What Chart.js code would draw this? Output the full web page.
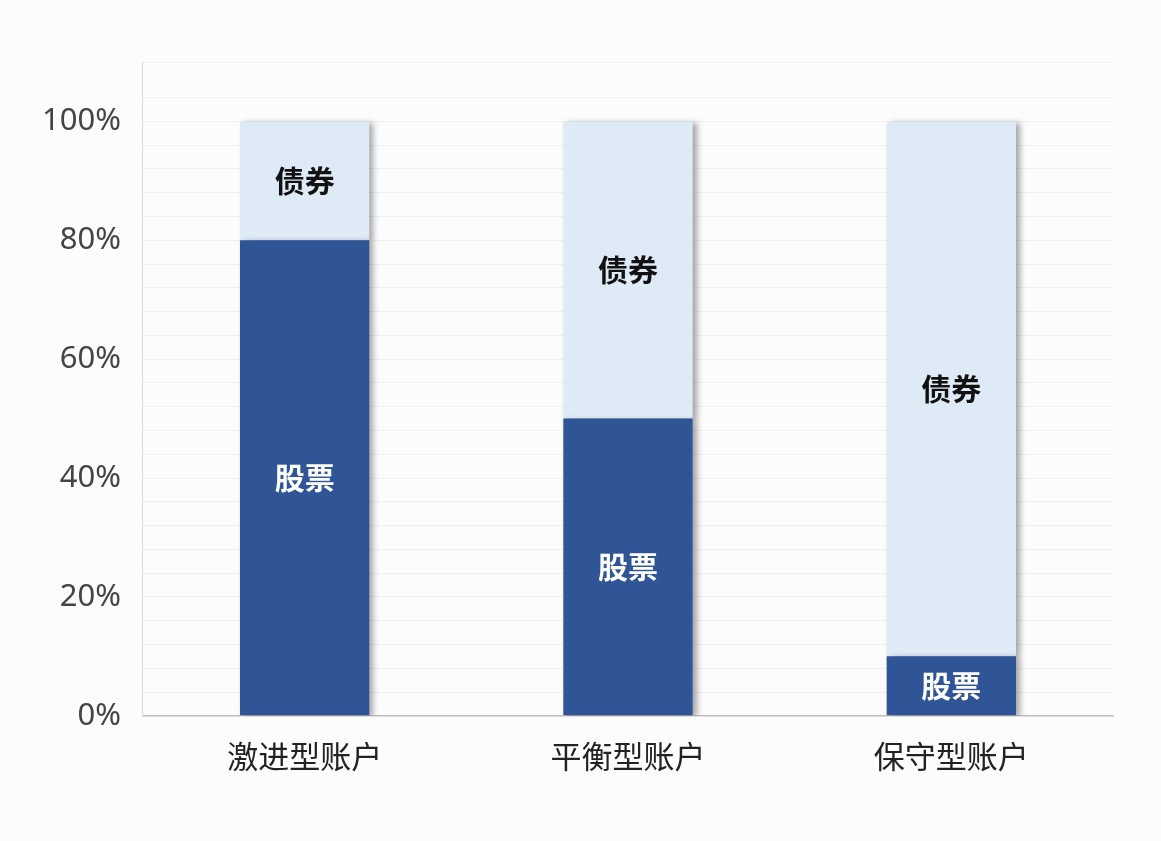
<!DOCTYPE html>
<html>
<head>
<meta charset="utf-8">
<script src="https://cdn.jsdelivr.net/npm/chart.js@4"></script>
<style>
  body { margin: 0; background: #fdfcfc; }
  #wrap { width: 1161px; height: 841px; }
</style>
</head>
<body>
<div id="wrap"><canvas id="chart"></canvas></div>
<script>
const categories = ["激进型账户", "平衡型账户", "保守型账户"];
const stockValues = [80, 50, 10];
const bondValues = [20, 50, 90];
const seriesNames = ["股票", "债券"];

// draw series name in the middle of each bar segment
const segmentLabels = {
    id: "segmentLabels",
    afterDatasetsDraw(chart) {
        const c = chart.ctx;
        c.save();
        c.font = "bold 30px 'Noto Sans CJK SC'";
        c.textAlign = "center";
        c.textBaseline = "middle";
        chart.data.datasets.forEach((ds, i) => {
            chart.getDatasetMeta(i).data.forEach(bar => {
                c.fillStyle = i === 0 ? "#ffffff" : "#111111";
                c.fillText(ds.label, bar.x, (bar.y + bar.base) / 2);
            });
        });
        c.restore();
    }
};

// soft shadow on the right of the bars
const barShadow = {
    id: "barShadow",
    beforeDatasetsDraw(chart) {
        const c = chart.ctx;
        c.save();
        c.shadowColor = "rgba(0,0,0,0.35)";
        c.shadowBlur = 6;
        c.shadowOffsetX = 4;
        c.shadowOffsetY = 2;
    },
    afterDatasetsDraw(chart) {
        chart.ctx.restore();
    }
};

new Chart(document.getElementById("chart"), {
    type: "bar",
    data: {
        labels: categories,
        datasets: [
            { label: seriesNames[0], data: stockValues, backgroundColor: "#2f5597" },
            { label: seriesNames[1], data: bondValues, backgroundColor: "#deeaf6" }
        ]
    },
    options: {
        responsive: true,
        maintainAspectRatio: false,
        animation: false,
        layout: { padding: { top: 62, right: 48, bottom: 52, left: 20 } },
        datasets: { bar: { barPercentage: 0.4, categoryPercentage: 1 } },
        plugins: { legend: { display: false }, tooltip: { enabled: false } },
        scales: {
            x: {
                stacked: true,
                grid: { display: false },
                border: { color: "#bfbfbf", width: 1.5 },
                ticks: { color: "#222", font: { size: 31, family: "'Noto Sans CJK SC'" }, padding: 14 }
            },
            y: {
                stacked: true,
                min: 0,
                max: 110,
                border: { color: "#d9d9d9" },
                grid: { color: "#efefef", drawTicks: false },
                ticks: {
                    stepSize: 4,
                    autoSkip: false,
                    color: "#444",
                    padding: 22,
                    font: { size: 31, family: "'Noto Sans'" },
                    callback: v => (v % 20 === 0 && v <= 100) ? v + "%" : ""
                }
            }
        }
    },
    plugins: [barShadow, segmentLabels]
});
</script>
</body>
</html>
